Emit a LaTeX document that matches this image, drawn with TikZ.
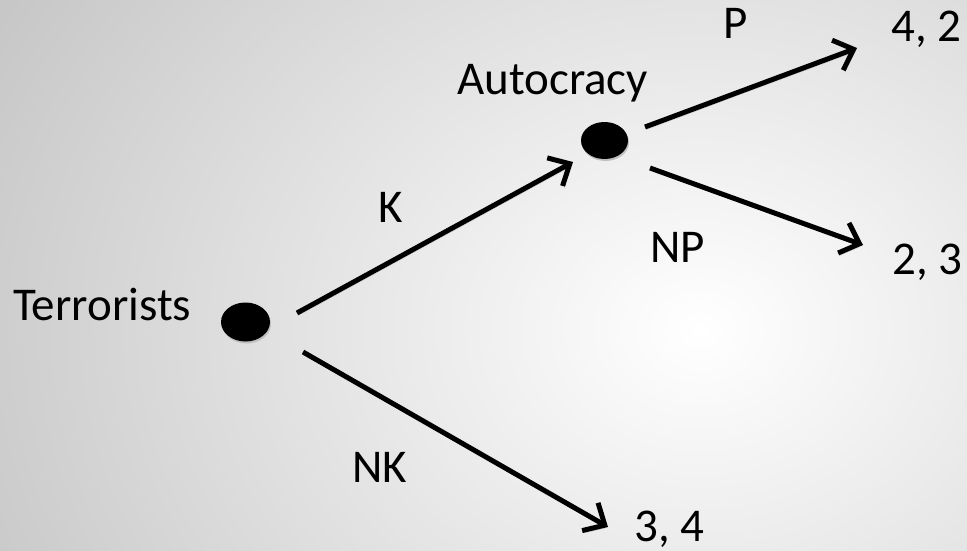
\documentclass[tikz,border=0pt]{standalone}
\usepackage{fontspec}
\setmainfont{Carlito}
\usetikzlibrary{shapes.geometric,arrows.meta}
\tikzset{
  lbl/.style={anchor=base west, inner sep=0pt, font=\fontsize{47}{56}\selectfont},
  dot/.style={ellipse, fill=black, inner sep=0pt,
    preaction={fill=black!25, transform canvas={shift={(1pt,-2pt)}}}},
  move/.style={line width=5pt, -{Straight Barb[length=17pt,width=32pt,line width=5pt]},
    preaction={draw=black!22, transform canvas={shift={(1.5pt,-2.5pt)}}}}
}
\begin{document}
\begin{tikzpicture}[x=1pt,y=-1pt]
\useasboundingbox (0,0) rectangle (967,551);
\begin{scope}
\clip (0,0) rectangle (967,551);
\shade[inner color=white, outer color=black!22] (-100,-320) rectangle (1500,980);
\end{scope}
% decision nodes
\node[dot, minimum width=49pt, minimum height=39pt] (T) at (245.5,322) {};
\node[dot, minimum width=47pt, minimum height=37pt] (A) at (604.5,140.5) {};
% labels
\node[lbl] (tT) at (13,320) {Terrorists};
\node[lbl] (tA) at (457,95) {Autocracy};
\node[lbl] (lK) at (378,222) {K};
\node[lbl] (lNK) at (352,482) {NK};
\node[lbl] (lP) at (723,39) {P};
\node[lbl] (lNP) at (650,262) {NP};
\node[lbl] (o42) at (891,42) {4, 2};
\node[lbl] (o23) at (892,274) {2, 3};
\node[lbl] (o34) at (634,541) {3, 4};
% connector end points
\coordinate (Ks) at (297,313);
\coordinate (Ke) at (573,162);
\coordinate (NKs) at (303,352);
\coordinate (NKe) at (608,527);
\coordinate (Ps) at (645,127);
\coordinate (Pe) at (857,48);
\coordinate (NPs) at (650,168);
\coordinate (NPe) at (863,245);
% moves
\draw[move] (Ks) -- (Ke);
\draw[move] (NKs) -- (NKe);
\draw[move] (Ps) -- (Pe);
\draw[move] (NPs) -- (NPe);
\end{tikzpicture}
\end{document}
